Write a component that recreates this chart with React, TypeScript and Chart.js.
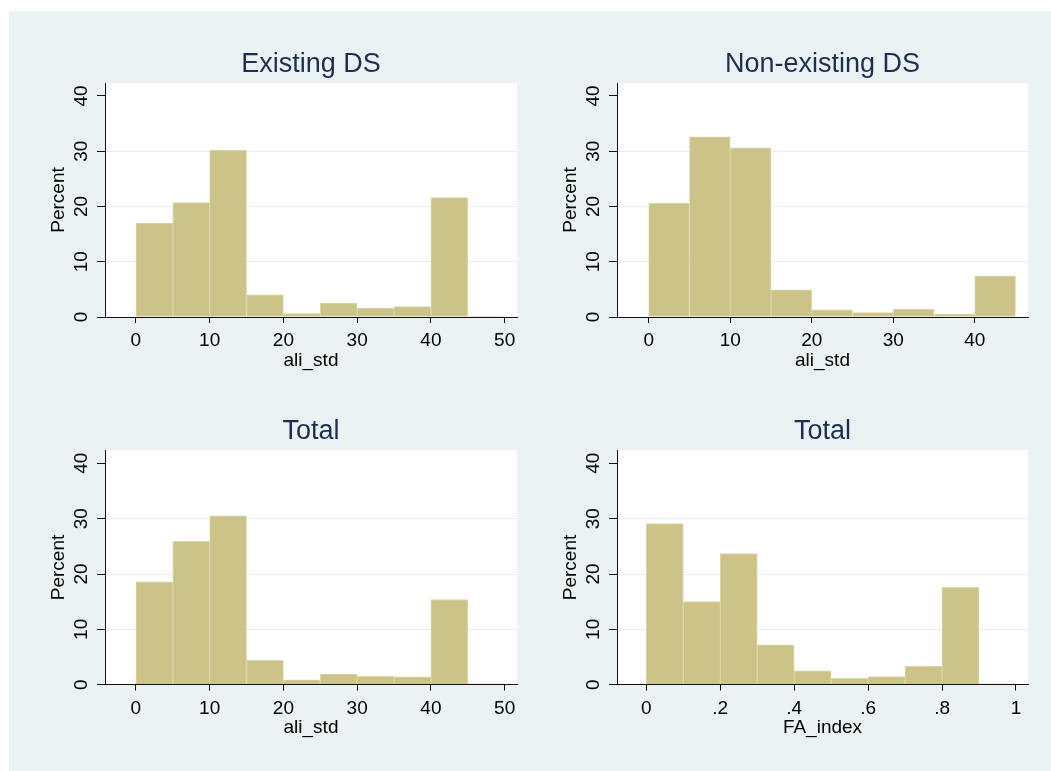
import React, { useEffect, useRef } from "react";
import { Chart, registerables } from "chart.js";

Chart.register(...registerables);
Chart.defaults.font.family = "'Liberation Sans', Arial, Helvetica, sans-serif";

// ---------------- data ----------------
const aliBinStarts = [0, 5, 10, 15, 20, 25, 30, 35, 40, 45];
const aliBinWidth = 5;
const existingDsPct = [17.0, 20.7, 30.2, 4.0, 0.6, 2.5, 1.6, 1.9, 21.6, 0.1];
const totalAliPct = [18.6, 25.9, 30.5, 4.4, 0.9, 1.9, 1.5, 1.4, 15.4, 0.15];

const nonExistBinStarts = [0, 5, 10, 15, 20, 25, 30, 35, 40];
const nonExistingDsPct = [20.6, 32.6, 30.6, 4.9, 1.3, 0.8, 1.45, 0.55, 7.4];

const faBinStarts = [0, 0.1, 0.2, 0.3, 0.4, 0.5, 0.6, 0.7, 0.8, 0.9];
const faBinWidth = 0.1;
const faIndexPct = [29.1, 15.0, 23.7, 7.2, 2.5, 1.15, 1.45, 3.3, 17.6, 0.15];

const aliTicks = [0, 10, 20, 30, 40, 50];
const aliTickLabels = ["0", "10", "20", "30", "40", "50"];
const nonExistTicks = [0, 10, 20, 30, 40];
const nonExistTickLabels = ["0", "10", "20", "30", "40"];
const faTicks = [0, 0.2, 0.4, 0.6, 0.8, 1];
const faTickLabels = ["0", ".2", ".4", ".6", ".8", "1"];
const percentTicks = [0, 10, 20, 30, 40];
const percentTickLabels = ["0", "10", "20", "30", "40"];

const panelTitles = ["Existing DS", "Non-existing DS", "Total", "Total"];
const xAxisTitles = ["ali_std", "ali_std", "ali_std", "FA_index"];
const yAxisTitle = "Percent";

// ---------------- style ----------------
const BAR_FILL = "#CBC387";
const BAR_EDGE = "#DCD7A8";
const GRID = "#E6EEF0";
const TITLE_COLOR = "#1F2D55";
const OUTER_BG = "#EAF2F3";
const Y_MAX = 42.35;

const whitePlot = {
  id: "whitePlot",
  beforeDraw(chart: any) {
    const { ctx, chartArea } = chart;
    ctx.save();
    ctx.fillStyle = "#ffffff";
    ctx.fillRect(chartArea.left, chartArea.top, chartArea.right - chartArea.left, chartArea.bottom - chartArea.top);
    ctx.restore();
  },
};

type PanelProps = {
  title: string;
  xTitle: string;
  starts: number[];
  binWidth: number;
  values: number[];
  xMin: number;
  xMax: number;
  xTicks: number[];
  xLabels: string[];
  left: number;
  top: number;
  width: number;
  height: number;
  titlePadBottom: number;
  xAxisHeight: number;
  xTitlePadBottom: number;
};

function Panel(p: PanelProps) {
  const ref = useRef<HTMLCanvasElement>(null);
  useEffect(() => {
    const chart = new Chart(ref.current as HTMLCanvasElement, {
      type: "bar",
      data: {
        datasets: [
          {
            data: p.starts.map((s, i) => ({ x: s + p.binWidth / 2, y: p.values[i] })),
            backgroundColor: BAR_FILL,
            borderColor: BAR_EDGE,
            borderWidth: 1,
            borderSkipped: "start",
            barPercentage: 1,
            categoryPercentage: 1,
          } as any,
        ],
      },
      options: {
        animation: false,
        responsive: false,
        events: [],
        layout: { padding: { left: 0, right: 15, top: 0, bottom: 0 } },
        plugins: {
          legend: { display: false },
          tooltip: { enabled: false },
          title: {
            display: true,
            text: p.title,
            fullSize: false,
            color: TITLE_COLOR,
            font: { size: 27, weight: "normal", lineHeight: 1.2 },
            padding: { top: 0, bottom: p.titlePadBottom },
          },
        },
        scales: {
          x: {
            type: "linear",
            min: p.xMin,
            max: p.xMax,
            offset: false,
            afterBuildTicks: (s: any) => {
              s.ticks = p.xTicks.map((v) => ({ value: v }));
            },
            afterFit: (s: any) => {
              s.height = p.xAxisHeight;
            },
            grid: {
              display: true,
              drawOnChartArea: false,
              drawTicks: true,
              tickLength: 6,
              tickColor: "#111",
              offset: false,
              z: -1,
            },
            border: { display: true, color: "#111", width: 1, z: 1 },
            ticks: {
              color: "#000",
              font: { size: 19 },
              padding: 6.6,
              minRotation: 0,
              maxRotation: 0,
              autoSkip: false,
              callback: (_v: any, i: number) => p.xLabels[i],
            },
            title: {
              display: true,
              text: p.xTitle,
              color: "#000",
              font: { size: 19 },
              padding: { top: 0, bottom: p.xTitlePadBottom },
            },
          },
          y: {
            type: "linear",
            min: 0,
            max: Y_MAX,
            afterBuildTicks: (s: any) => {
              s.ticks = percentTicks.map((v) => ({ value: v }));
            },
            afterFit: (s: any) => {
              s.width = 65;
            },
            grid: {
              color: (c: any) =>
                c.tick && (c.tick.value === 0 || c.tick.value === 40) ? "rgba(0,0,0,0)" : GRID,
              tickColor: "#111",
              tickLength: 8,
              lineWidth: 1,
              z: -1,
            },
            border: { display: true, color: "#111", width: 1, z: 1 },
            ticks: {
              color: "#000",
              font: { size: 19 },
              padding: 4.9,
              minRotation: 90,
              maxRotation: 90,
              crossAlign: "center",
              autoSkip: false,
              callback: (_v: any, i: number) => percentTickLabels[i],
            },
            title: {
              display: true,
              text: yAxisTitle,
              color: "#000",
              font: { size: 19 },
              padding: { top: 7, bottom: 0 },
            },
          },
        },
      } as any,
      plugins: [whitePlot],
    });
    return () => chart.destroy();
  }, []);
  return (
    <canvas
      ref={ref}
      width={p.width}
      height={p.height}
      style={{ position: "absolute", left: p.left, top: p.top, width: p.width, height: p.height }}
    />
  );
}

export default function App() {
  const row1 = { top: 48, height: 328, titlePadBottom: 2.6, xAxisHeight: 59, xTitlePadBottom: 4.3 };
  const row2 = { top: 415, height: 329, titlePadBottom: 2.9, xAxisHeight: 59.3, xTitlePadBottom: 4.6 };
  const col1 = { left: 40, width: 492 };
  const col2 = { left: 552, width: 491 };
  return (
    <div style={{ position: "absolute", left: 0, top: 0, width: 1051, height: 771, background: "#fff", overflow: "hidden" }}>
      <div style={{ position: "absolute", left: 9, top: 11, width: 1042, height: 760, background: OUTER_BG }} />
      <Panel
        title={panelTitles[0]}
        xTitle={xAxisTitles[0]}
        starts={aliBinStarts}
        binWidth={aliBinWidth}
        values={existingDsPct}
        xMin={-4.19}
        xMax={51.67}
        xTicks={aliTicks}
        xLabels={aliTickLabels}
        {...col1}
        {...row1}
      />
      <Panel
        title={panelTitles[1]}
        xTitle={xAxisTitles[1]}
        starts={nonExistBinStarts}
        binWidth={aliBinWidth}
        values={nonExistingDsPct}
        xMin={-3.89}
        xMax={46.53}
        xTicks={nonExistTicks}
        xLabels={nonExistTickLabels}
        {...col2}
        {...row1}
      />
      <Panel
        title={panelTitles[2]}
        xTitle={xAxisTitles[2]}
        starts={aliBinStarts}
        binWidth={aliBinWidth}
        values={totalAliPct}
        xMin={-4.19}
        xMax={51.67}
        xTicks={aliTicks}
        xLabels={aliTickLabels}
        {...col1}
        {...row2}
      />
      <Panel
        title={panelTitles[3]}
        xTitle={xAxisTitles[3]}
        starts={faBinStarts}
        binWidth={faBinWidth}
        values={faIndexPct}
        xMin={-0.0793}
        xMax={1.0325}
        xTicks={faTicks}
        xLabels={faTickLabels}
        {...col2}
        {...row2}
      />
    </div>
  );
}
